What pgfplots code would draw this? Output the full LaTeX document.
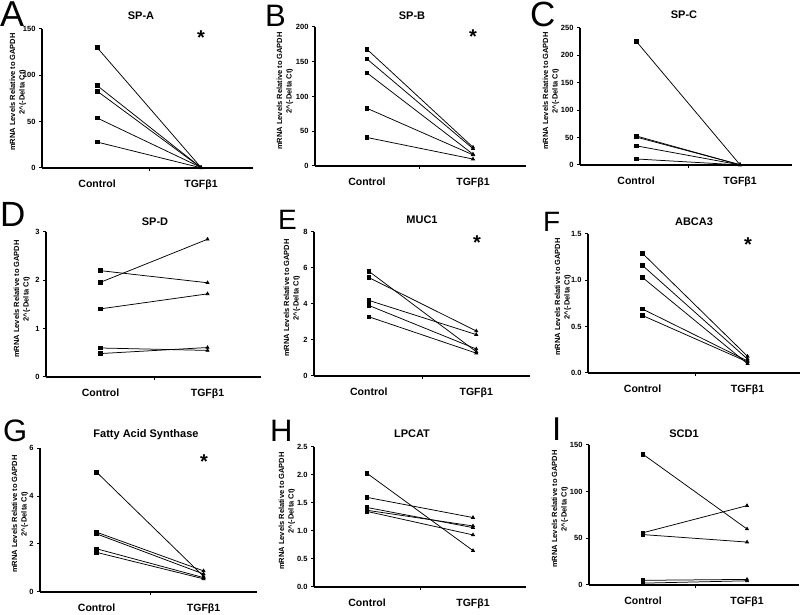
\documentclass[border=0pt]{standalone}
\usepackage{pgfplots}
\pgfplotsset{compat=1.18}
\usepackage{fontspec}
\setmainfont{Liberation Sans}

\pgfplotsset{
  panel/.style={
    scale only axis, anchor=south west,
    axis lines=left,
    axis line style={-, line width=1.1pt},
    every outer x axis line/.append style={-},
    every outer y axis line/.append style={-},
    xmax=2.5, ymin=0,
    xtick={1.5}, xticklabels={},
    extra x ticks={1,2}, extra x tick labels={Control,TGFβ1},
    extra x tick style={major tick length=0pt,
      xticklabel style={font=\bfseries\fontsize{10.5}{12}\selectfont, yshift=-8pt}},
    tick align=outside, major tick length=3pt,
    tick style={black, line width=1pt},
    yticklabel style={font=\bfseries\fontsize{7.5}{8}\selectfont},
    /pgf/number format/assume math mode=true,
    clip=false,
  },
  pair/.style={black, line width=0.75pt, scatter, point meta=explicit symbolic,
    scatter/classes={c={mark=square*, mark size=1.8pt, black},
                     t={mark=triangle*, mark size=1.7pt, black}}},
}
\newcommand\ylab[2]{\node[rotate=90, align=center, font=\bfseries\fontsize{7.5}{9.5}\selectfont] at (#1pt,#2pt)
  {mRNA Levels Relative to GAPDH\\2\textasciicircum(-Delta Ct)};}

\begin{document}
\begin{tikzpicture}

% A  SP-A
\begin{axis}[panel, at={(42pt,447pt)}, width=211pt, height=139pt, xmin=0.47, ymax=150, ytick={0,50,100,150}]
\addplot[pair] coordinates {(1,130)[c] (2,0.5)[t]};
\addplot[pair] coordinates {(1,89)[c] (2,0.4)[t]};
\addplot[pair] coordinates {(1,83)[c] (2,0.3)[t]};
\addplot[pair] coordinates {(1,54)[c] (2,0.6)[t]};
\addplot[pair] coordinates {(1,28)[c] (2,0.2)[t]};
\end{axis}

% B  SP-B
\begin{axis}[panel, at={(315pt,449pt)}, width=211pt, height=139pt, xmin=0.51, ymax=200, ytick={0,50,100,150,200}]
\addplot[pair] coordinates {(1,168)[c] (2,27)[t]};
\addplot[pair] coordinates {(1,154)[c] (2,25)[t]};
\addplot[pair] coordinates {(1,134)[c] (2,17)[t]};
\addplot[pair] coordinates {(1,83)[c] (2,16)[t]};
\addplot[pair] coordinates {(1,41)[c] (2,10)[t]};
\end{axis}

% C  SP-C
\begin{axis}[panel, at={(580pt,450pt)}, width=212pt, height=137pt, xmin=0.46, ymax=250, ytick={0,50,100,150,200,250}]
\addplot[pair] coordinates {(1,226)[c] (2,0.4)[t]};
\addplot[pair] coordinates {(1,53)[c] (2,0.3)[t]};
\addplot[pair] coordinates {(1,51)[c] (2,0.5)[t]};
\addplot[pair] coordinates {(1,35)[c] (2,0.2)[t]};
\addplot[pair] coordinates {(1,11)[c] (2,0.1)[t]};
\end{axis}

% D  SP-D
\begin{axis}[panel, at={(46pt,238pt)}, width=215pt, height=145pt, xmin=0.49, ymax=3, ytick={0,1,2,3}]
\addplot[pair] coordinates {(1,2.2)[c] (2,1.95)[t]};
\addplot[pair] coordinates {(1,1.96)[c] (2,2.85)[t]};
\addplot[pair] coordinates {(1,1.41)[c] (2,1.72)[t]};
\addplot[pair] coordinates {(1,0.60)[c] (2,0.55)[t]};
\addplot[pair] coordinates {(1,0.485)[c] (2,0.61)[t]};
\end{axis}

% E  MUC1
\begin{axis}[panel, at={(314pt,239pt)}, width=216pt, height=144pt, xmin=0.49, ymax=8, ytick={0,2,4,6,8}]
\addplot[pair] coordinates {(1,5.82)[c] (2,1.35)[t]};
\addplot[pair] coordinates {(1,5.47)[c] (2,2.5)[t]};
\addplot[pair] coordinates {(1,4.2)[c] (2,2.3)[t]};
\addplot[pair] coordinates {(1,3.92)[c] (2,1.5)[t]};
\addplot[pair] coordinates {(1,3.29)[c] (2,1.27)[t]};
\end{axis}

% F  ABCA3
\begin{axis}[panel, at={(588pt,242pt)}, width=212pt, height=139pt, xmin=0.48, ymax=1.5, ytick={0,0.5,1,1.5},
  yticklabel style={/pgf/number format/fixed, /pgf/number format/precision=1, /pgf/number format/fixed zerofill}]
\addplot[pair] coordinates {(1,1.29)[c] (2,0.18)[t]};
\addplot[pair] coordinates {(1,1.16)[c] (2,0.15)[t]};
\addplot[pair] coordinates {(1,1.03)[c] (2,0.10)[t]};
\addplot[pair] coordinates {(1,0.69)[c] (2,0.13)[t]};
\addplot[pair] coordinates {(1,0.62)[c] (2,0.12)[t]};
\end{axis}

% G  Fatty Acid Synthase
\begin{axis}[panel, at={(40pt,23pt)}, width=217pt, height=144pt, xmin=0.47, ymax=6, ytick={0,2,4,6}]
\addplot[pair] coordinates {(1,4.99)[c] (2,0.65)[t]};
\addplot[pair] coordinates {(1,2.49)[c] (2,0.88)[t]};
\addplot[pair] coordinates {(1,2.42)[c] (2,0.75)[t]};
\addplot[pair] coordinates {(1,1.8)[c] (2,0.6)[t]};
\addplot[pair] coordinates {(1,1.65)[c] (2,0.55)[t]};
\end{axis}

% H  LPCAT
\begin{axis}[panel, at={(314pt,28pt)}, width=212pt, height=140pt, xmin=0.5, ymax=2.5, ytick={0,0.5,1,1.5,2,2.5},
  yticklabel style={/pgf/number format/fixed, /pgf/number format/precision=1, /pgf/number format/fixed zerofill}]
\addplot[pair] coordinates {(1,2.03)[c] (2,0.65)[t]};
\addplot[pair] coordinates {(1,1.6)[c] (2,1.24)[t]};
\addplot[pair] coordinates {(1,1.42)[c] (2,1.06)[t]};
\addplot[pair] coordinates {(1,1.37)[c] (2,1.09)[t]};
\addplot[pair] coordinates {(1,1.35)[c] (2,0.93)[t]};
\end{axis}

% I  SCD1
\begin{axis}[panel, at={(589pt,30pt)}, width=210pt, height=140pt, xmin=0.48, ymax=150, ytick={0,50,100,150}]
\addplot[pair] coordinates {(1,140)[c] (2,60)[t]};
\addplot[pair] coordinates {(1,56)[c] (2,85)[t]};
\addplot[pair] coordinates {(1,54)[c] (2,46)[t]};
\addplot[pair] coordinates {(1,5)[c] (2,6)[t]};
\addplot[pair] coordinates {(1,2)[c] (2,4.5)[t]};
\end{axis}

% y labels
\ylab{18}{523}
\ylab{285}{524}
\ylab{551}{524}
\ylab{22}{316}
\ylab{292}{317}
\ylab{563}{318}
\ylab{20}{101}
\ylab{287}{104}
\ylab{560}{106}

% titles
\begin{scope}[every node/.style={font=\bfseries\fontsize{11}{13}\selectfont, anchor=base}]
\node at (141pt,595pt) {SP-A};
\node at (412pt,595pt) {SP-B};
\node at (684pt,596pt) {SP-C};
\node at (155pt,389pt) {SP-D};
\node at (422pt,391pt) {MUC1};
\node at (694pt,389pt) {ABCA3};
\node at (146pt,177pt) {Fatty Acid Synthase};
\node at (412pt,177pt) {LPCAT};
\node at (684pt,177pt) {SCD1};
\end{scope}

% significance
\begin{scope}[every node/.style={font=\bfseries\fontsize{20}{20}\selectfont, anchor=north, inner sep=0pt}]
\node at (201pt,584pt) {*};
\node at (473pt,585pt) {*};
\node at (477pt,379pt) {*};
\node at (748pt,377pt) {*};
\node at (204pt,160pt) {*};
\end{scope}

% panel letters
\begin{scope}[every node/.style={anchor=north west, inner sep=0pt}]
\node[font=\fontsize{36}{36}\selectfont] at (0pt,613pt) {A};
\node[font=\fontsize{31}{31}\selectfont] at (265pt,610pt) {B};
\node[font=\fontsize{35}{35}\selectfont] at (530pt,613pt) {C};
\node[font=\fontsize{35}{35}\selectfont] at (0pt,413pt) {D};
\node[font=\fontsize{28}{28}\selectfont] at (278pt,405pt) {E};
\node[font=\fontsize{28}{28}\selectfont] at (543pt,403pt) {F};
\node[font=\fontsize{31}{31}\selectfont] at (3pt,195pt) {G};
\node[font=\fontsize{31}{31}\selectfont] at (270pt,195pt) {H};
\node[font=\fontsize{33}{33}\selectfont] at (552pt,197pt) {I};
\end{scope}

\pgfresetboundingbox
\path[use as bounding box] (0pt,0pt) rectangle (800pt,615pt);
\end{tikzpicture}
\end{document}
